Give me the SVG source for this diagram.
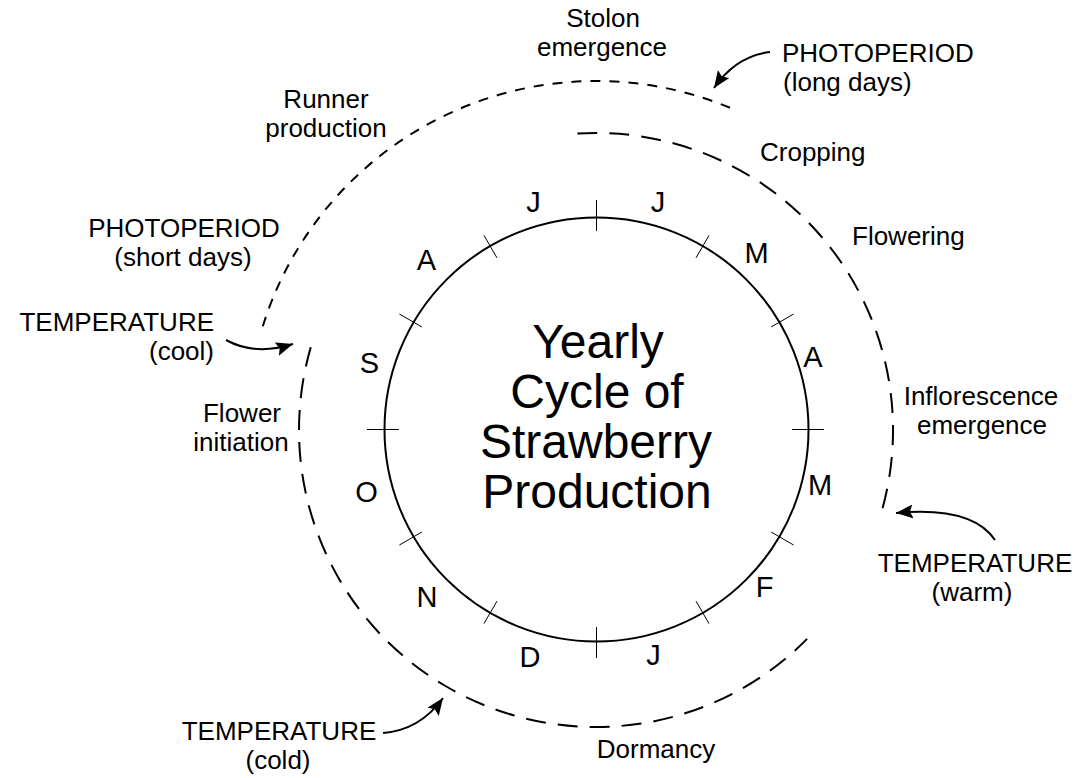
<svg xmlns="http://www.w3.org/2000/svg" width="1078" height="778" viewBox="0 0 1078 778">
<style>
  text { font-family: "Liberation Sans", Arial, Helvetica, sans-serif; fill: #000; }
  .lbl { font-size: 26px; }
  .mon { font-size: 29px; text-anchor: middle; }
  .title { font-size: 48px; text-anchor: middle; }
  .mid { text-anchor: middle; }
  .end { text-anchor: end; }
  .ring { fill: none; stroke: #000; stroke-width: 2; }
  .tick { stroke: #000; stroke-width: 1; }
  .dshort { fill: none; stroke: #000; stroke-width: 2; stroke-dasharray: 10 9; }
  .dlong { fill: none; stroke: #000; stroke-width: 2; stroke-dasharray: 20 12; }
  .arrow { fill: none; stroke: #000; stroke-width: 2; marker-end: url(#ah); }
</style>
<defs>
  <marker id="ah" markerUnits="userSpaceOnUse" markerWidth="18" markerHeight="14" refX="17" refY="7" orient="auto">
    <path d="M0,0 L17,7 L0,14 L3,7 z" fill="#000"/>
  </marker>
</defs>
<rect width="1078" height="778" fill="#fff"/>

<g id="cycle">
  <circle class="ring" cx="596.5" cy="429.5" r="212"/>
  <g id="ticks">
    <line class="tick" x1="596.5" y1="200" x2="596.5" y2="231"/>
    <line class="tick" x1="596.5" y1="627" x2="596.5" y2="658"/>
    <line class="tick" x1="367" y1="429.5" x2="399" y2="429.5"/>
    <line class="tick" x1="792" y1="429.5" x2="824" y2="429.5"/>
    <line class="tick" x1="709.0" y1="235.4" x2="696.0" y2="257.9"/>
    <line class="tick" x1="793.6" y1="314.0" x2="771.1" y2="327.0"/>
    <line class="tick" x1="793.6" y1="545.0" x2="771.1" y2="532.0"/>
    <line class="tick" x1="709.0" y1="623.6" x2="696.0" y2="601.1"/>
    <line class="tick" x1="484.0" y1="623.6" x2="497.0" y2="601.1"/>
    <line class="tick" x1="399.4" y1="545.0" x2="421.9" y2="532.0"/>
    <line class="tick" x1="399.4" y1="314.0" x2="421.9" y2="327.0"/>
    <line class="tick" x1="484.0" y1="235.4" x2="497.0" y2="257.9"/>
  </g>
  <text class="title" x="598" y="358">Yearly</text>
  <text class="title" x="597" y="408">Cycle of</text>
  <text class="title" x="596" y="458">Strawberry</text>
  <text class="title" x="597" y="508">Production</text>
</g>

<g id="months">
  <text class="mon" x="533.5" y="212">J</text>
  <text class="mon" x="658" y="212">J</text>
  <text class="mon" x="756.5" y="263">M</text>
  <text class="mon" x="813" y="367">A</text>
  <text class="mon" x="820" y="495">M</text>
  <text class="mon" x="764.5" y="597">F</text>
  <text class="mon" x="653.5" y="665">J</text>
  <text class="mon" x="530" y="667">D</text>
  <text class="mon" x="427" y="607">N</text>
  <text class="mon" x="366.5" y="502">O</text>
  <text class="mon" x="369.5" y="373">S</text>
  <text class="mon" x="426.5" y="270">A</text>
</g>

<g id="phases">
  <path id="arc-runner" class="dshort" d="M262.8,326.2 A349,349 0 0 1 736.8,110.7"/>
  <path id="arc-flowering" class="dlong" d="M577.4,133.6 A297,297 0 0 1 880.5,515.4"/>
  <path id="arc-dormancy" class="dlong" d="M310.8,347.1 A297,297 0 0 0 807.1,638.9"/>
</g>

<g id="connectors">
  <path class="arrow" d="M770,52 Q736,56 714,88"/>
  <path class="arrow" d="M226,340 Q255,356 293,344"/>
  <path class="arrow" d="M995,540 Q972,506 896,513"/>
  <path class="arrow" d="M383,733 Q420,730 443,698"/>
</g>

<g id="stolon"><text class="lbl mid" x="603" y="27">Stolon</text><text class="lbl mid" x="602" y="56">emergence</text></g>
<g id="photo-long"><text class="lbl" x="782" y="62">PHOTOPERIOD</text><text class="lbl" x="783" y="91">(long days)</text></g>
<g id="runner"><text class="lbl mid" x="326" y="108">Runner</text><text class="lbl mid" x="326" y="137">production</text></g>
<g id="cropping"><text class="lbl" x="760" y="161">Cropping</text></g>
<g id="flowering"><text class="lbl" x="852" y="245">Flowering</text></g>
<g id="photo-short"><text class="lbl mid" x="184" y="237">PHOTOPERIOD</text><text class="lbl mid" x="183" y="266">(short days)</text></g>
<g id="temp-cool"><text class="lbl end" x="214" y="331">TEMPERATURE</text><text class="lbl end" x="214" y="360">(cool)</text></g>
<g id="flower-init"><text class="lbl mid" x="242" y="422">Flower</text><text class="lbl mid" x="241" y="451">initiation</text></g>
<g id="inflorescence"><text class="lbl mid" x="981" y="405">Inflorescence</text><text class="lbl mid" x="982" y="434">emergence</text></g>
<g id="temp-warm"><text class="lbl mid" x="975" y="572">TEMPERATURE</text><text class="lbl mid" x="972" y="601">(warm)</text></g>
<g id="temp-cold"><text class="lbl mid" x="279" y="740">TEMPERATURE</text><text class="lbl mid" x="278" y="769">(cold)</text></g>
<g id="dormancy"><text class="lbl mid" x="656" y="758">Dormancy</text></g>
</svg>
